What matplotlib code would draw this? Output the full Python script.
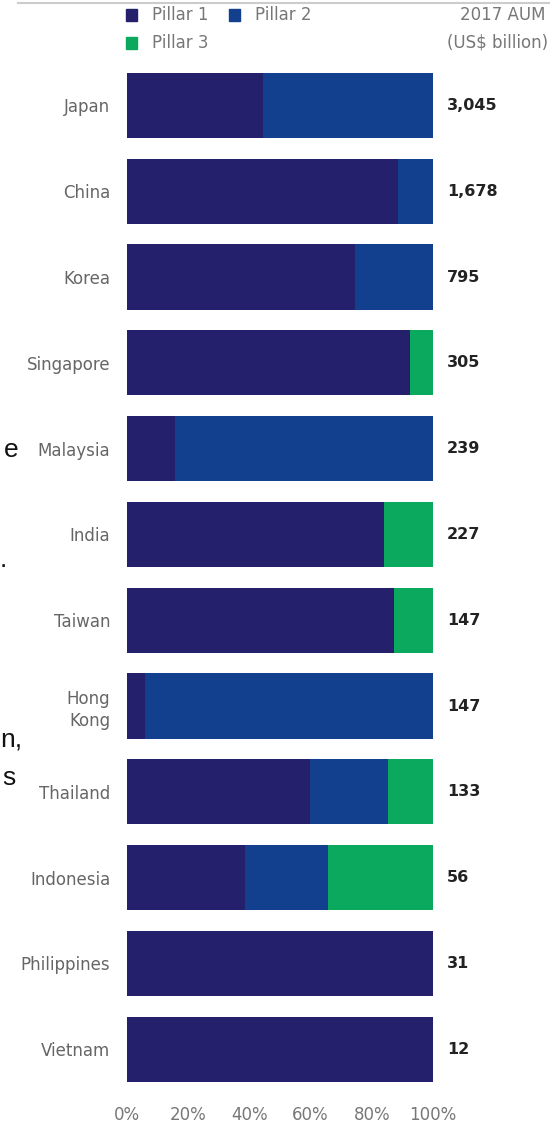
import matplotlib
matplotlib.use('Agg')
import matplotlib.pyplot as plt
import numpy as np

countries = ['Japan', 'China', 'Korea', 'Singapore', 'Malaysia', 'India',
             'Taiwan', 'Hong\nKong', 'Thailand', 'Indonesia', 'Philippines', 'Vietnam']
pillar1 = [44.4, 88.6, 74.5, 92.5, 15.7, 84.0, 87.3, 5.9, 59.8, 38.6, 100, 100]
pillar2 = [55.6, 11.4, 25.5, 0, 84.3, 0, 0, 94.1, 25.5, 27.1, 0, 0]
pillar3 = [0, 0, 0, 7.5, 0, 16.0, 12.7, 0, 14.7, 34.3, 0, 0]
aum = ['3,045', '1,678', '795', '305', '239', '227', '147', '147', '133', '56', '31', '12']
ticks = [0, 20, 40, 60, 80, 100]

c1 = '#25206b'
c2 = '#133f8f'
c3 = '#0aa95e'
narrow = ['Liberation Sans Narrow', 'DejaVu Sans']

fig = plt.figure(figsize=(5.5, 11.25), dpi=100)
ax = fig.add_axes([0.2309, 0.0292, 0.5564, 0.9152])

y = np.arange(len(countries))
p1 = np.array(pillar1)
p2 = np.array(pillar2)
p3 = np.array(pillar3)
ax.barh(y, p1, height=0.76, color=c1)
ax.barh(y, p2, left=p1, height=0.76, color=c2)
ax.barh(y, p3, left=p1 + p2, height=0.76, color=c3)

ax.set_xlim(0, 100)
ax.set_ylim(len(countries) - 0.5, -0.5)
for s in ax.spines.values():
    s.set_visible(False)

ax.set_yticks(y)
ax.set_yticklabels(countries, family=narrow, fontsize=12, color='#666666',
                   linespacing=1.3)
ax.tick_params(axis='y', length=0, pad=12)
ax.set_xticks(ticks)
ax.set_xticklabels([f'{t}%' for t in ticks], family=narrow, fontsize=12,
                   color='#777777')
ax.tick_params(axis='x', length=0, pad=10)

for yi, v in zip(y, aum):
    ax.text(104.5, yi, v, va='center', ha='left', fontsize=11.5,
            fontweight='bold', color='#222222', family='DejaVu Sans')

# legend + header
def sq(x, yy, col):
    fig.patches.append(plt.Rectangle((x / 550, 1 - yy / 1125 - 6 / 1125),
                                     11 / 550, 12 / 1125, color=col,
                                     transform=fig.transFigure))

sq(126, 15, c1)
sq(229, 15, c2)
sq(126, 43, c3)
fig.text(152 / 550, 1 - 15 / 1125, 'Pillar 1', va='center', fontsize=12,
         color='#777777', family=narrow)
fig.text(255 / 550, 1 - 15 / 1125, 'Pillar 2', va='center', fontsize=12,
         color='#777777', family=narrow)
fig.text(152 / 550, 1 - 43 / 1125, 'Pillar 3', va='center', fontsize=12,
         color='#777777', family=narrow)
fig.text(460 / 550, 1 - 15 / 1125, '2017 AUM', va='center', fontsize=12,
         color='#777777', family=narrow)
fig.text(447 / 550, 1 - 43 / 1125, '(US$ billion)', va='center', fontsize=12,
         color='#777777', family=narrow)

# top rule and cut-off text from the page behind
fig.add_artist(plt.Line2D([18 / 550, 1], [1 - 3 / 1125, 1 - 3 / 1125],
                          color='#cccccc', lw=1.5, transform=fig.transFigure))
for tx, xx, yy in [('e', 4, 450), ('.', 0, 560), ('n,', 0, 740), ('s', 2, 778)]:
    fig.text(xx / 550, 1 - yy / 1125, tx, va='center', ha='left',
             fontsize=19, color='#111111', family='Liberation Sans')

fig.savefig('out.png', dpi=100)
